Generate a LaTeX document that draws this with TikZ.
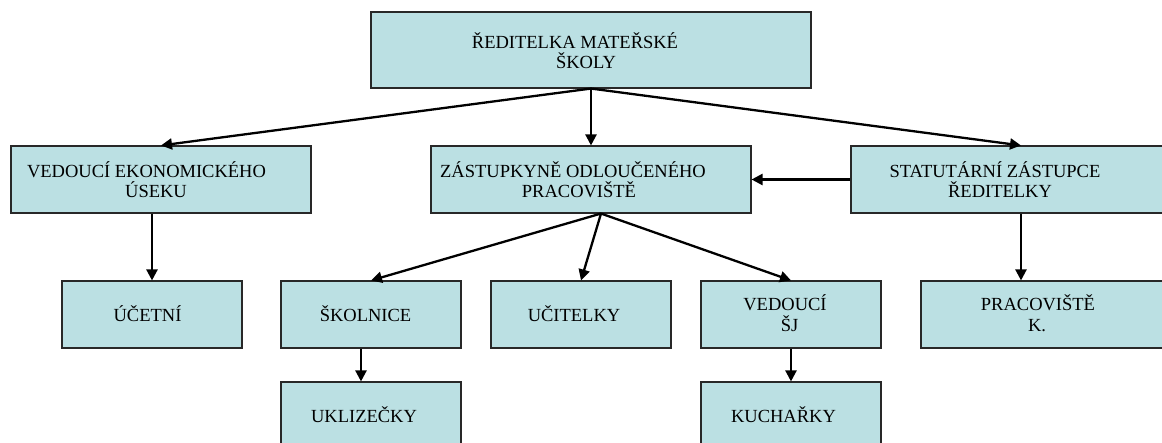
\documentclass[tikz,border=0pt]{standalone}
\usepackage{fontspec}
\setmainfont{Liberation Serif}
\usetikzlibrary{arrows.meta,calc}
\definecolor{boxfill}{RGB}{187,224,227}
\definecolor{boxline}{RGB}{40,40,40}
\begin{document}
\begin{tikzpicture}[x=1pt,y=-1pt,
  box/.style={draw=boxline, line width=1.1pt, fill=boxfill, rectangle, inner sep=0pt, minimum height=67pt, minimum width=180pt},
  lbl/.style={anchor=base, inner sep=0pt, font=\fontsize{18.5}{20}\selectfont},
  conn/.style={line width=2.3pt, -{Triangle[length=11pt,width=11pt]}}]
\useasboundingbox (0,0) rectangle (1162,443);
\clip (0,0) rectangle (1162,443);
% boxes
\node[box, minimum width=440pt, minimum height=76pt] (top) at (591,50) {};
\node[box, minimum width=300pt] (eko) at (161,179.5) {};
\node[box, minimum width=320pt] (zast) at (591,179.5) {};
\node[box, minimum width=340pt] (stat) at (1021,179.5) {};
\node[box] (ucet) at (152,314.5) {};
\node[box] (skol) at (371,314.5) {};
\node[box] (ucit) at (581,314.5) {};
\node[box] (sj) at (791,314.5) {};
\node[box, minimum width=244pt] (prac) at (1043,314.5) {};
\node[box] (ukl) at (371,415.5) {};
\node[box] (kuch) at (791,415.5) {};
% texts
\node[lbl] (t1a) at (575,49) {ŘEDITELKA MATEŘSKÉ};
\node[lbl] (t1b) at (586,69) {ŠKOLY};
\node[lbl] (t2a) at (146.5,178) {VEDOUCÍ EKONOMICKÉHO};
\node[lbl] (t2b) at (156,198) {ÚSEKU};
\node[lbl] (t3a) at (573,178) {ZÁSTUPKYNĚ ODLOUČENÉHO};
\node[lbl] (t3b) at (579,198) {PRACOVIŠTĚ};
\node[lbl] (t4a) at (995,178) {STATUTÁRNÍ ZÁSTUPCE};
\node[lbl] (t4b) at (1000,198) {ŘEDITELKY};
\node[lbl] (t5) at (147.5,322) {ÚČETNÍ};
\node[lbl] (t6) at (365.5,322) {ŠKOLNICE};
\node[lbl] (t7) at (574,322) {UČITELKY};
\node[lbl] (t8a) at (785,311) {VEDOUCÍ};
\node[lbl] (t8b) at (789.5,332) {ŠJ};
\node[lbl] (t9a) at (1038,311) {PRACOVIŠTĚ};
\node[lbl] (t9b) at (1037,332) {K.};
\node[lbl] (t10) at (364,423) {UKLIZEČKY};
\node[lbl] (t11) at (783.5,423) {KUCHAŘKY};
% connectors
\coordinate (zb) at ([xshift=10pt]zast.south);
\draw[conn] (top.south) -- (eko.north);
\draw[conn] (top.south) -- (zast.north);
\draw[conn] (top.south) -- (stat.north);
\draw[conn] (stat.west) -- (zast.east);
\draw[conn] (eko.south -| ucet.north) -- (ucet.north);
\draw[conn] (stat.south) -- (stat.south |- prac.north);
\draw[conn] (zb) -- (skol.north);
\draw[conn] (zb) -- (ucit.north);
\draw[conn] (zb) -- (sj.north);
\draw[conn] ([xshift=-10pt]skol.south) -- ([xshift=-10pt]ukl.north);
\draw[conn] (sj.south) -- (kuch.north);
\end{tikzpicture}
\end{document}
